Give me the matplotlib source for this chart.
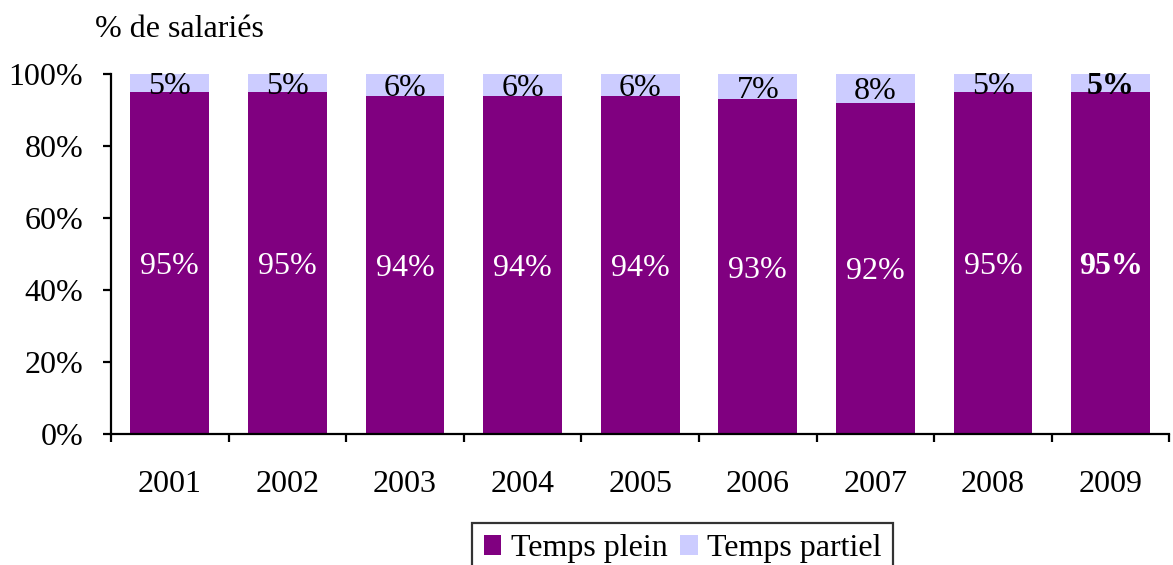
import numpy as np
import matplotlib.pyplot as plt

plt.rcParams['font.family'] = 'Liberation Serif'

# données
annees = ['2001', '2002', '2003', '2004', '2005', '2006', '2007', '2008', '2009']
temps_plein = [95, 95, 94, 94, 94, 93, 92, 95, 95]
temps_partiel = [5, 5, 6, 6, 6, 7, 8, 5, 5]

col_plein = '#800080'
col_partiel = '#CCCCFF'
fs = 23

fig = plt.figure(figsize=(11.73, 5.65), dpi=100)
ax = fig.add_axes([0.0946, 0.232, 0.9024, 0.637])

x = np.arange(len(annees))
b1 = ax.bar(x, temps_plein, width=0.67, color=col_plein, label='Temps plein')
b2 = ax.bar(x, temps_partiel, width=0.67, bottom=temps_plein, color=col_partiel, label='Temps partiel')

for i in range(len(annees)):
    poids = 'bold' if i == len(annees) - 1 else 'normal'
    ax.text(x[i], temps_plein[i] / 2, f'{temps_plein[i]}%', ha='center', va='center_baseline',
            color='white', fontsize=fs, fontweight=poids)
    ax.text(x[i], temps_plein[i] + temps_partiel[i] / 2, f'{temps_partiel[i]}%', ha='center',
            va='center_baseline', color='black', fontsize=fs, fontweight=poids)

ax.set_xlim(-0.5, len(annees) - 0.5)
ax.set_ylim(0, 100)
ax.set_yticks(np.arange(0, 101, 20))
ax.set_yticklabels([f'{v}%' for v in range(0, 101, 20)], fontsize=fs)
ax.set_xticks(x)
ax.set_xticklabels(annees, fontsize=fs)
ax.tick_params(axis='x', length=0, pad=26)
ax.set_xticks(np.arange(-0.5, len(annees)), minor=True)
ax.tick_params(axis='x', which='minor', length=6, width=1.6, direction='out')
ax.tick_params(axis='y', length=6, width=1.6, direction='out', pad=14)
for s in ['top', 'right']:
    ax.spines[s].set_visible(False)
ax.spines['left'].set_linewidth(1.6)
ax.spines['bottom'].set_linewidth(1.6)

fig.text(0.081, 0.948, '% de salariés', fontsize=fs, ha='left', va='center')

leg = fig.legend(handles=[b1, b2], loc='upper center', bbox_to_anchor=(0.582, 0.074), ncol=2,
                 fontsize=fs, frameon=True, fancybox=False, edgecolor='black',
                 handlelength=0.55, handleheight=0.55, handletextpad=0.3, columnspacing=0.4,
                 borderpad=0.35, borderaxespad=0)
leg.get_frame().set_linewidth(1.6)

fig.savefig('out.png', dpi=100)
